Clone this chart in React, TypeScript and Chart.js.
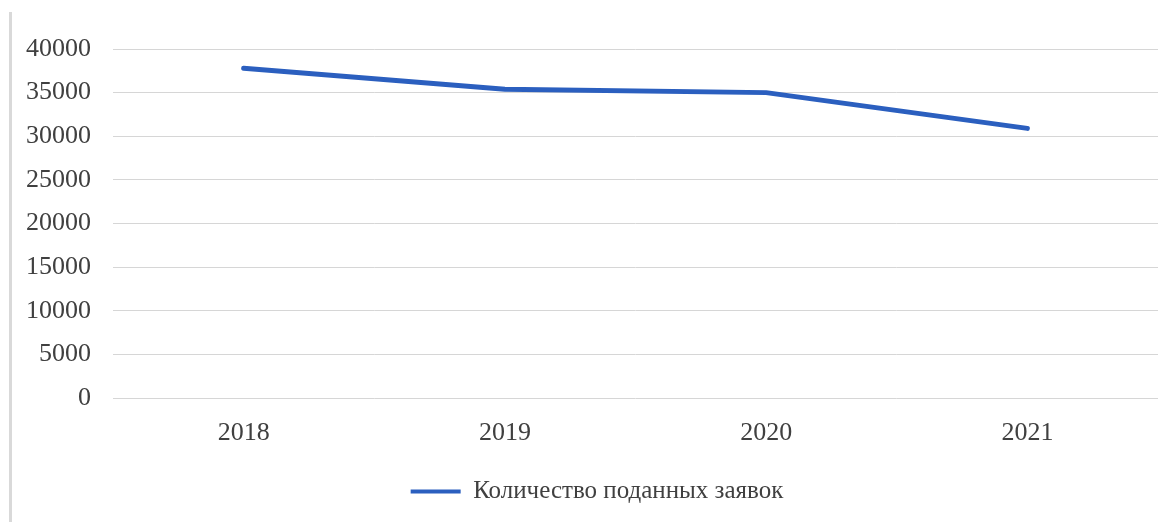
import React, { useEffect, useRef } from "react";
import { Chart, registerables } from "chart.js";

Chart.register(...registerables);

const categories: string[] = ["2018", "2019", "2020", "2021"];
const applications: number[] = [37800, 35400, 35000, 30900];
const seriesLabel = "Количество поданных заявок";
const yMin = 0;
const yMax = 40000;
const yStep = 5000;

const BLUE = "#2b5fbf";
const TEXT = "#404040";
const FONT = "'Liberation Serif', 'Times New Roman', serif";

const legendShift = {
  id: "legendShift",
  afterLayout(chart: any) {
    if (chart.legend) {
      chart.legend.left += 18;
      chart.legend.right += 18;
    }
  },
};

export default function App() {
  const ref = useRef<HTMLCanvasElement | null>(null);

  useEffect(() => {
    if (!ref.current) return;
    const chart = new Chart(ref.current, {
      type: "line",
      data: {
        labels: categories,
        datasets: [
          {
            label: seriesLabel,
            data: applications,
            borderColor: BLUE,
            backgroundColor: BLUE,
            borderWidth: 5,
            borderCapStyle: "round",
            borderJoinStyle: "round",
            pointRadius: 0,
            pointHoverRadius: 0,
            tension: 0,
            fill: false,
          },
        ],
      },
      plugins: [legendShift],
      options: {
        responsive: false,
        animation: false,
        devicePixelRatio: 1,
        layout: { padding: { top: 49, right: 15, left: 0, bottom: 8 } },
        plugins: {
          tooltip: { enabled: false },
          legend: {
            display: true,
            position: "bottom",
            labels: {
              font: { family: FONT, size: 25 },
              color: TEXT,
              boxWidth: 50,
              boxHeight: 4,
              padding: 10,
              generateLabels: () => [
                {
                  text: seriesLabel,
                  fillStyle: BLUE,
                  strokeStyle: BLUE,
                  lineWidth: 0,
                  hidden: false,
                  datasetIndex: 0,
                  fontColor: TEXT,
                } as any,
              ],
            },
          },
        },
        scales: {
          x: {
            offset: true,
            grid: { display: false, drawTicks: false },
            border: { display: false },
            ticks: {
              color: TEXT,
              font: { family: FONT, size: 26 },
              padding: 20,
              maxRotation: 0,
            },
            afterFit: (scale: any) => {
              scale.height = 71;
            },
          },
          y: {
            min: yMin,
            max: yMax,
            grid: { color: "#d6d6d6", lineWidth: 1, drawTicks: false },
            border: { display: false },
            ticks: {
              stepSize: yStep,
              color: TEXT,
              font: { family: FONT, size: 26 },
              padding: 22,
              callback: (v: any) => String(v),
            },
            afterFit: (scale: any) => {
              scale.width = 113;
            },
          },
        },
      },
    });
    return () => chart.destroy();
  }, []);

  return (
    <div
      style={{
        position: "fixed",
        left: 0,
        top: 0,
        width: 1173,
        height: 522,
        background: "#ffffff",
      }}
    >
      <div
        style={{
          position: "absolute",
          left: 9,
          top: 12,
          width: 3,
          height: 510,
          background: "#d9d9d9",
        }}
      />
      <canvas
        ref={ref}
        width={1173}
        height={522}
        style={{ position: "absolute", left: 0, top: 0 }}
      />
    </div>
  );
}
